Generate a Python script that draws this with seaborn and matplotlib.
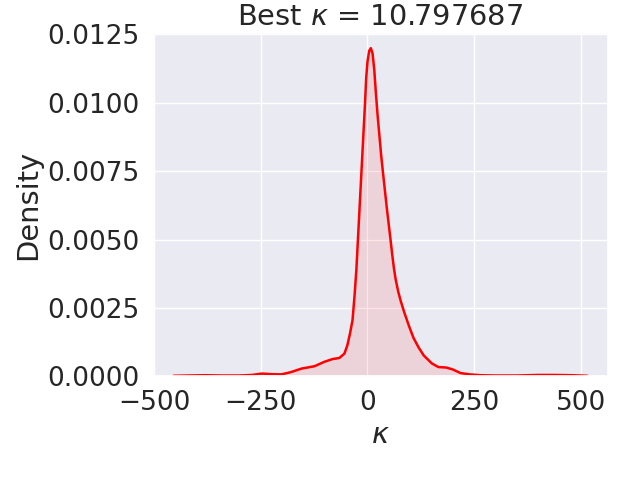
import matplotlib
matplotlib.use("Agg")
import matplotlib.pyplot as plt
import seaborn as sns

kappa = [
    -454, -420, -380, -340, -300, -270, -248, -225, -202, -180,
    -155, -124, -101, -82, -66, -54, -47, -41, -35, -30,
    -26, -22, -18, -14, -10, -6, -3, 0, 4, 8,
    12, 16, 20, 24, 28, 32, 36, 45, 54, 58,
    62, 66, 72, 78, 86, 97, 108, 120, 132, 151,
    166, 185, 200, 218, 240, 265, 300, 350, 400, 440,
    480, 515
]

# density values in units of 1e-3
density_e3 = [
    0.02, 0.03, 0.04, 0.03, 0.03, 0.05, 0.10, 0.08, 0.07, 0.15,
    0.28, 0.37, 0.53, 0.63, 0.67, 0.83, 1.14, 1.56, 2.05, 3.0,
    3.9, 5.1, 6.3, 7.5, 8.7, 9.9, 10.9, 11.5, 11.9, 12.0,
    11.8, 11.2, 10.3, 9.5, 8.8, 8.1, 7.5, 6.2, 5.0, 4.45,
    3.95, 3.55, 3.1, 2.75, 2.35, 1.85, 1.4, 1.05, 0.76, 0.47,
    0.34, 0.32, 0.25, 0.12, 0.07, 0.04, 0.03, 0.03, 0.05, 0.05,
    0.04, 0.02
]

best_kappa = 10.797687

density = [d * 1e-3 for d in density_e3]

sns.set_theme(font_scale=1.73)

fig, ax = plt.subplots(figsize=(6.4, 4.8), dpi=100)

sns.lineplot(x=kappa, y=density, color="red", linewidth=1.8, ax=ax)
ax.fill_between(kappa, density, color="red", alpha=0.1, linewidth=0)

ax.set_title(rf"Best $\kappa$ = {best_kappa:f}")
ax.set_xlabel(r"$\kappa$")
ax.set_ylabel("Density")
ax.set_xticks([-500, -250, 0, 250, 500])
ax.set_ylim(0, 0.01255)

plt.subplots_adjust(left=0.239, right=0.95, bottom=0.216, top=0.931)

plt.savefig("out.png", dpi=100)
plt.close()
